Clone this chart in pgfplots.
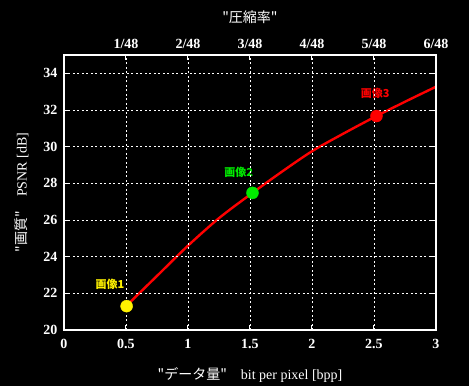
\documentclass[border=0pt]{standalone}
\usepackage{pgfplots}
\pgfplotsset{compat=1.18}
\usepackage{fontspec}
\setmainfont{Liberation Serif}
\newfontfamily\jp{Noto Sans CJK JP}
\definecolor{mygreen}{RGB}{0,235,0}
\begin{document}
\begin{tikzpicture}
\path[use as bounding box, fill=black] (-64pt,-56pt) rectangle (405pt,330pt);
\begin{axis}[at={(0,0)}, anchor=south west, scale only axis, width=372pt, height=275pt,
  xmin=0, xmax=3, ymin=20, ymax=35,
  xtick={0,0.5,...,3}, ytick={20,22,...,34},
  xtick pos=left, ytick pos=both,
  axis line style={white, line width=1.2pt},
  tick style={white, line width=1pt}, major tick length=5pt, tick align=inside,
  grid=major, major grid style={white, line width=0.8pt, dash pattern=on 2pt off 2.5pt},
  /pgf/number format/assume math mode=true,
  ticklabel style={font=\bfseries\fontsize{14}{14}\selectfont, text=white},
  xticklabel style={yshift=-6pt},
  yticklabel style={xshift=-3pt},
  label style={text=white, font=\fontsize{14}{15}\selectfont},
  xlabel={{\jp "データ量"}\quad bit per pixel [bpp]},
  ylabel={{\jp "画質"}\quad PSNR [dB]},
  xlabel style={yshift=-12pt},
  ylabel style={yshift=8pt},
  axis on top,
]
\addplot[red, line width=2.4pt, smooth] coordinates {
(0.5,21.3) (0.75,22.95) (1.0,24.6) (1.25,26.1) (1.5,27.38) (1.75,28.6)
(2.0,29.75) (2.25,30.7) (2.5,31.6) (2.75,32.45) (3.0,33.27)};
\addplot[only marks, mark=*, mark size=6pt, color=yellow] coordinates {(0.505,21.3)};
\addplot[only marks, mark=*, mark size=6pt, color=mygreen] coordinates {(1.52,27.48)};
\addplot[only marks, mark=*, mark size=6pt, color=red] coordinates {(2.52,31.67)};
\node[text=yellow, font=\jp\bfseries\fontsize{11}{11}\selectfont] at (axis cs:0.37,22.5) {画像1};
\node[text=mygreen, font=\jp\bfseries\fontsize{11}{11}\selectfont] at (axis cs:1.41,28.6) {画像2};
\node[text=red, font=\jp\bfseries\fontsize{11}{11}\selectfont] at (axis cs:2.51,32.9) {画像3};
\end{axis}
\begin{axis}[at={(0,0)}, anchor=south west, scale only axis, width=372pt, height=275pt,
  xmin=0, xmax=3, ymin=20, ymax=35,
  axis x line*=top, axis y line=none,
  xtick={0.5,1,...,3}, xticklabels={1/48,2/48,3/48,4/48,5/48,6/48},
  axis line style={white, line width=1.2pt, -},
  tick style={white, line width=1pt}, major tick length=5pt, tick align=inside,
  ticklabel style={font=\bfseries\fontsize{14}{14}\selectfont, text=white},
  xticklabel style={yshift=3pt},
  label style={text=white, font=\fontsize{14}{15}\selectfont},
  xlabel={\jp "圧縮率"},
  xlabel style={yshift=8pt},
]
\end{axis}
\end{tikzpicture}
\end{document}
